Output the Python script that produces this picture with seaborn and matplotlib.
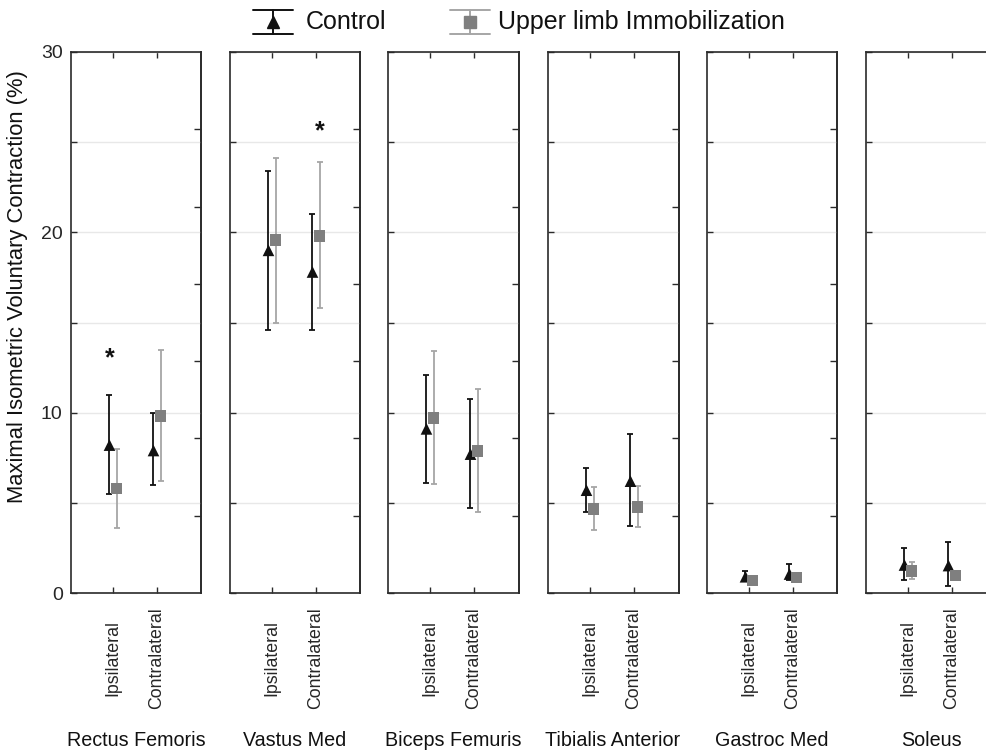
import numpy as np
import pandas as pd
import matplotlib
matplotlib.use("Agg")
import matplotlib.pyplot as plt
from matplotlib.lines import Line2D
import seaborn as sns

# ---------------- data ----------------
muscles = ["Rectus Femoris", "Vastus Med", "Biceps Femuris",
           "Tibialis Anterior", "Gastroc Med", "Soleus"]
sides = ["Ipsilateral", "Contralateral"]
groups = ["Control", "Upper limb Immobilization"]

# values ordered muscle by muscle: (ipsilateral, contralateral)
ctrl_mean = [8.2, 7.9, 19.0, 17.8, 9.1, 7.7, 5.7, 6.2, 0.9, 1.05, 1.55, 1.52]
ctrl_low = [5.5, 6.0, 14.6, 14.6, 6.1, 4.7, 4.5, 3.7, 0.68, 0.72, 0.72, 0.39]
ctrl_high = [11.0, 10.0, 23.4, 21.0, 12.1, 10.75, 6.94, 8.83, 1.24, 1.6, 2.5, 2.85]
ul_mean = [5.8, 9.8, 19.56, 19.8, 9.7, 7.88, 4.65, 4.76, 0.7, 0.85, 1.22, 0.96]
ul_low = [3.6, 6.2, 15.0, 15.8, 6.04, 4.47, 3.5, 3.66, 0.6, 0.75, 0.76, 0.85]
ul_high = [8.0, 13.5, 24.1, 23.9, 13.4, 11.3, 5.9, 5.93, 0.8, 0.95, 1.74, 1.07]

# significance markers: (muscle index, side index, height)
signif = [(0, 0, 13.0), (1, 1, 25.6)]

y_ticks = [0, 5, 10, 15, 20, 25, 30]
y_ticklabels = ["0", "", "10", "", "20", "", "30"]
ylabel = "Maximal Isometric Voluntary Contraction (%)"

# ---------------- style ----------------
sns.set_theme(style="white")
plt.rcParams["font.family"] = ["Liberation Sans", "DejaVu Sans"]

rows = []
for i, m in enumerate(muscles):
    for j, s in enumerate(sides):
        k = 2 * i + j
        rows.append(dict(muscle=m, side=s, side_idx=j, group=groups[0],
                         mean=ctrl_mean[k], low=ctrl_low[k], high=ctrl_high[k]))
        rows.append(dict(muscle=m, side=s, side_idx=j, group=groups[1],
                         mean=ul_mean[k], low=ul_low[k], high=ul_high[k]))
df = pd.DataFrame(rows)
offsets = {groups[0]: -0.08, groups[1]: 0.08}
df["xpos"] = df["side_idx"] + df["group"].map(offsets)

marker_col = {groups[0]: "#111111", groups[1]: "#7f7f7f"}
err_col = {groups[0]: "#111111", groups[1]: "#a6a6a6"}
markers = {groups[0]: "^", groups[1]: "s"}

W, H = 987, 752
fig = plt.figure(figsize=(W / 100, H / 100), dpi=100)
fig.patch.set_facecolor("white")

lefts = [71, 230, 388, 548, 707, 866]
widths = [130, 130, 131, 131, 130, 150]
ax_top, ax_bot = 52, 593
spine_col = "#2a2a2a"

for i, m in enumerate(muscles):
    ax_w = widths[i]
    ax = fig.add_axes([lefts[i] / W, (H - ax_bot) / H, ax_w / W, (ax_bot - ax_top) / H])
    sub = df[df["muscle"] == m]
    for g in groups:
        d = sub[sub["group"] == g]
        ax.errorbar(d["xpos"], d["mean"],
                    yerr=[d["mean"] - d["low"], d["high"] - d["mean"]],
                    fmt="none", ecolor=err_col[g], elinewidth=1.3,
                    capsize=2.5, capthick=1.3, zorder=2)
    sns.scatterplot(data=sub, x="xpos", y="mean", hue="group", style="group",
                    palette=marker_col, markers=markers, hue_order=groups,
                    s=70, edgecolor="none", linewidth=0, legend=False,
                    ax=ax, zorder=3)
    for (mi, si, yv) in signif:
        if mi == i:
            xo = -0.08 if si == 0 else 0.08
            ax.text(si + xo, yv, "*", ha="center", va="center",
                    fontsize=18, fontweight="bold", color="#111111")
    ax.set_xlim(-42 / 44, (ax_w - 42) / 44)
    ax.set_ylim(0, 30)
    ax.set_yticks(y_ticks)
    ax.grid(axis="y", color="#e8e8e8", linewidth=1.0)
    ax.grid(axis="x", visible=False)
    ax.set_axisbelow(True)
    ax.set_xticks([0, 1])
    ax.set_xticklabels(sides, rotation=90, va="center", fontsize=12.8)
    ax.tick_params(axis="x", top=True, bottom=True, direction="in",
                   length=4, width=1, color=spine_col, pad=47)
    ax.tick_params(axis="y", left=True, direction="in", length=4, width=1,
                   color=spine_col, labelsize=14, pad=6)
    if i == 0:
        ax.set_yticklabels(y_ticklabels)
    else:
        ax.set_yticklabels([])
    ax.set_xlabel("")
    ax.set_ylabel("")
    for sp in ax.spines.values():
        sp.set_color(spine_col)
        sp.set_linewidth(1.2)
    sec = ax.secondary_yaxis("right")
    sec.set_yticks([30 / 7 * k for k in range(1, 7)])
    sec.set_yticklabels([])
    sec.tick_params(direction="in", length=5, width=1, color=spine_col)
    sec.spines["right"].set_color(spine_col)
    sec.spines["right"].set_linewidth(1.2)
    ax.text((65 / ax_w), -0.272, m, transform=ax.transAxes, ha="center",
            va="center", fontsize=14.2, color="#111111")

fig.text(18 / W, 1 - 287 / H, ylabel, rotation=90, ha="center", va="center",
         fontsize=15.8, color="#111111")

# ---------------- legend (figure level) ----------------
def fx(px):
    return px / W

def fy(py):
    return 1 - py / H

leg_items = [(273, 306, groups[0]), (470, 498, groups[1])]
for cx, tx, g in leg_items:
    c = err_col[g] if g == groups[1] else "#111111"
    for yy in (10, 34):
        fig.add_artist(Line2D([fx(cx - 20), fx(cx + 20)], [fy(yy), fy(yy)],
                              color=c, lw=1.4, transform=fig.transFigure))
    fig.add_artist(Line2D([fx(cx), fx(cx)], [fy(10), fy(34)], color=c, lw=1.4,
                          transform=fig.transFigure))
    fig.add_artist(Line2D([fx(cx)], [fy(22)], marker=markers[g], markersize=9,
                          color=marker_col[g], linestyle="none",
                          transform=fig.transFigure))
    fig.text(fx(tx), fy(22), g, ha="left", va="center", fontsize=18,
             color="#111111")

fig.savefig("out.png", dpi=100, facecolor="white")
